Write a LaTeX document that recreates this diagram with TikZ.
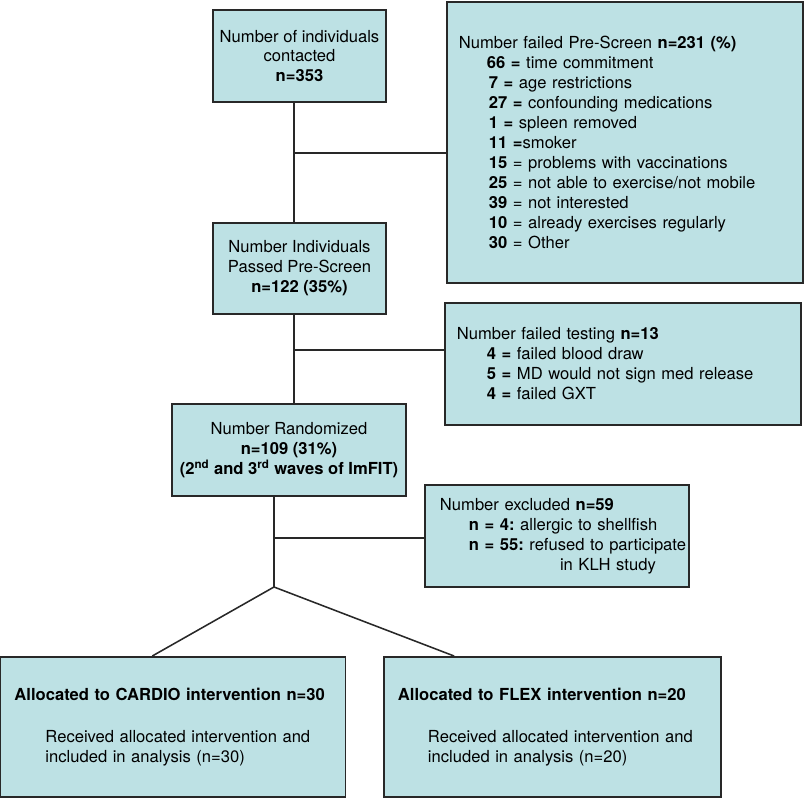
\documentclass[tikz,border=0pt]{standalone}
\usepackage{fontspec}
\setmainfont{TeX Gyre Heros}
\usetikzlibrary{calc}
\definecolor{boxfill}{RGB}{189,225,228}
\definecolor{boxline}{RGB}{40,40,40}
\begin{document}
\frenchspacing
\begin{tikzpicture}[x=0.025cm,y=-0.025cm]
\tikzstyle{every node}+=[font=\fontsize{11.8}{14.2}\selectfont]
\tikzstyle{flowbox}=[draw=boxline, fill=boxfill, line width=1.3pt, inner sep=0pt]
\tikzstyle{sidebox}=[flowbox, align=left]
\tikzstyle{link}=[boxline, line width=1.1pt]
\useasboundingbox (0,0) rectangle (811,800);
\node [flowbox, align=center, minimum width=4.325cm, minimum height=2.3cm] (contacted) at (299.5,56)
  {Number of individuals\\contacted\\\textbf{n=353}};
\node [sidebox, text width=8.3cm, inner xsep=0.3cm, minimum height=7.025cm] (failscreen) at (625,142.5)
  {Number failed Pre-Screen \textbf{n=231 (\%)}\\
   \hspace*{0.7cm}\textbf{66 =} time commitment\\
   \hspace*{0.75cm}\textbf{7 =} age restrictions\\
   \hspace*{0.75cm}\textbf{27 =} confounding medications\\
   \hspace*{0.75cm}\textbf{1 =} spleen removed\\
   \hspace*{0.75cm}\textbf{11 =}smoker\\
   \hspace*{0.75cm}\textbf{15} = problems with vaccinations\\
   \hspace*{0.75cm}\textbf{25} = not able to exercise/not mobile\\
   \hspace*{0.75cm}\textbf{39} = not interested\\
   \hspace*{0.75cm}\textbf{10} = already exercises regularly\\
   \hspace*{0.75cm}\textbf{30} = Other};
\node [flowbox, align=center, minimum width=4.325cm, minimum height=2.275cm] (passed) at (299.5,268.5)
  {Number Individuals\\Passed Pre-Screen\\\textbf{n=122 (35\%)}};
\node [sidebox, text width=8.3cm, inner xsep=0.3cm, minimum height=3.05cm] (failtest) at (623,364)
  {Number failed testing \textbf{n=13}\\
   \hspace*{0.75cm}\textbf{4 =} failed blood draw\\
   \hspace*{0.75cm}\textbf{5 =} MD would not sign med release\\
   \hspace*{0.75cm}\textbf{4 =} failed GXT};
\node [flowbox, align=center, minimum width=5.85cm, minimum height=2.3cm] (random) at (289,450)
  {Number Randomized\\\textbf{n=109 (31\%)}\\\textbf{(2\textsuperscript{nd} and 3\textsuperscript{rd} waves of ImFIT)}};
\node [sidebox, text width=6.3cm, inner xsep=0.15cm, minimum height=2.55cm] (excluded) at (557,536)
  {\hspace*{0.225cm}Number excluded \textbf{n=59}\\
   \hspace*{0.95cm}\textbf{n = 4:} allergic to shellfish\\
   \hspace*{0.95cm}\mbox{\textbf{n = 55:} refused to participate}\\
   \hspace*{3.225cm}in KLH study};
\node [sidebox, text width=7.925cm, inner xsep=0.35cm, minimum height=3.5cm] (cardio) at (173,727)
  {\textbf{Allocated to CARDIO intervention n=30}\\[15.6pt]
   \hspace*{0.775cm}Received allocated intervention and\\
   \hspace*{0.775cm}included in analysis (n=30)};
\node [sidebox, text width=7.725cm, inner xsep=0.35cm, minimum height=3.5cm] (flex) at (552.5,727)
  {\textbf{Allocated to FLEX intervention n=20}\\[15.6pt]
   \hspace*{0.75cm}Received allocated intervention and\\
   \hspace*{0.75cm}included in analysis (n=20)};
\coordinate (j1) at (294,153);
\coordinate (j2) at (294,350);
\coordinate (j3) at (274,538);
\coordinate (split) at (274,587);
\draw [link] (contacted.south -| j1) -- (passed.north -| j1);
\draw [link] (j1) -- (j1 -| failscreen.west);
\draw [link] (passed.south -| j2) -- (random.north -| j2);
\draw [link] (j2) -- (j2 -| failtest.west);
\draw [link] (random.south -| j3) -- (split);
\draw [link] (j3) -- (j3 -| excluded.west);
\draw [link] (split) -- ($(cardio.north west)!0.44!(cardio.north east)$);
\draw [link] (split) -- ($(flex.north west)!0.21!(flex.north east)$);
\end{tikzpicture}
\end{document}
